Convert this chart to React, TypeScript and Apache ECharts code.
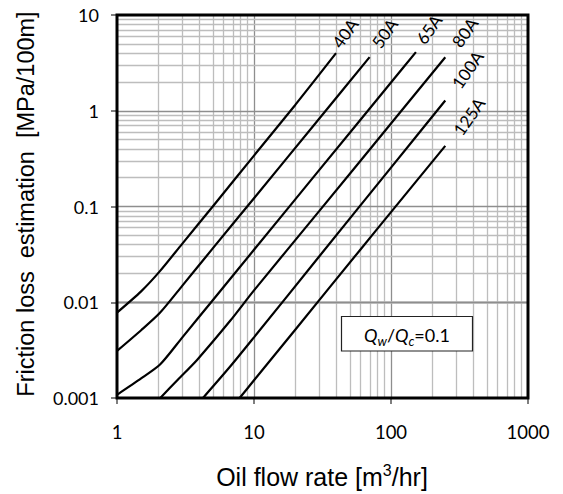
import React, { useEffect, useRef } from "react";
import * as echarts from "echarts";

// Axis extents (log scales) and tick labels
const xMin = 1;
const xMax = 1000;
const yMin = 0.001;
const yMax = 10;
const xTickLabels = ["1", "10", "100", "1000"];
const yTickLabels = ["0.001", "0.01", "0.1", "1", "10"];

// Grid: decades and the 1..9 multipliers inside each decade
const xDecades = [1, 10, 100];
const yDecades = [0.001, 0.01, 0.1, 1];
const gridMultipliers = [1, 2, 3, 4, 5, 6, 7, 8, 9];

// Pipe sizes and their friction-loss curves: [flow m3/hr, loss MPa/100m]
const pipeSizes = ["40A", "50A", "65A", "80A", "100A", "125A"];
const curve40A: [number, number][] = [
  [1, 0.0078], [1.5, 0.013], [2.05, 0.021], [3, 0.041], [5, 0.1],
  [10, 0.34], [20, 1.15], [39.7, 4.0],
];
const curve50A: [number, number][] = [
  [1, 0.0031], [1.5, 0.0051], [2.05, 0.0077], [3, 0.0149], [5, 0.0365],
  [10, 0.122], [30, 0.83], [69.8, 3.63],
];
const curve65A: [number, number][] = [
  [1, 0.00108], [1.5, 0.0016], [2.07, 0.00225], [3, 0.0043], [5, 0.0105],
  [10, 0.0353], [30, 0.241], [100, 1.97], [152, 4.1],
];
const curve80A: [number, number][] = [
  [2.07, 0.001], [2.8, 0.00157], [3.84, 0.0025], [6.7, 0.0064], [10, 0.0133],
  [30, 0.09], [100, 0.735], [249, 3.62],
];
const curve100A: [number, number][] = [
  [4.24, 0.001], [6.7, 0.00213], [10, 0.0043], [30, 0.0302], [100, 0.255],
  [249, 1.28],
];
const curve125A: [number, number][] = [
  [7.85, 0.001], [10, 0.00153], [20, 0.00517], [59.7, 0.0354], [100, 0.0874],
  [249, 0.43],
];
const curves = [curve40A, curve50A, curve65A, curve80A, curve100A, curve125A];

// Placement of each size label relative to its curve's end, in pixels
const labelOffsets: [number, number][] = [
  [0, -7], [6, -11], [4, -10], [10.5, -12], [10.5, -14], [12, -12.5],
];
const labelAngle = (55 * Math.PI) / 180;

const titleFont = "'Liberation Sans', Arial, sans-serif";
const numberFont = "Lato, 'Open Sans', sans-serif";

const fmtTick = (v: number, labels: string[]) => {
  const s = String(parseFloat(v.toPrecision(3)));
  return labels.includes(s) ? s : "";
};

export default function App() {
  const ref = useRef<HTMLDivElement>(null);

  useEffect(() => {
    if (!ref.current) return;
    const chart = echarts.init(ref.current, undefined, { renderer: "svg" });

    const majorColor = "#8e8e8e";
    const minorColor = "#bdbdbd";

    const gridMarks: any[] = [];
    xDecades.forEach((d) =>
      gridMultipliers.forEach((m) => {
        const v = d * m;
        if (v <= xMin || v >= xMax) return;
        gridMarks.push({
          xAxis: v,
          lineStyle: { color: m === 1 ? majorColor : minorColor, width: 1.3, type: "solid" },
        });
      })
    );
    yDecades.forEach((d) =>
      gridMultipliers.forEach((m) => {
        const v = d * m;
        if (v <= yMin || v >= yMax) return;
        gridMarks.push({
          yAxis: v,
          lineStyle: { color: m === 1 ? majorColor : minorColor, width: 1.3, type: "solid" },
        });
      })
    );

    const axisCommon = {
      type: "log" as const,
      logBase: 10,
      axisLine: { show: false },
      splitLine: { show: false },
      minorTick: { show: false },
      axisTick: { show: true, length: 6, lineStyle: { color: "#555", width: 1.5 } },
    };

    chart.setOption({
      animation: false,
      backgroundColor: "#fff",
      grid: { left: 117, right: 35, top: 15, bottom: 96, containLabel: false },
      xAxis: {
        ...axisCommon,
        min: xMin,
        max: xMax,
        axisLabel: {
          margin: 24,
          fontSize: 18.5,
          fontFamily: numberFont,
          color: "#000",
          formatter: (v: number) => fmtTick(v, xTickLabels),
        },
      },
      yAxis: {
        ...axisCommon,
        min: yMin,
        max: yMax,
        axisLabel: {
          margin: 18,
          fontSize: 18,
          fontFamily: numberFont,
          color: "#000",
          formatter: (v: number) => fmtTick(v, yTickLabels),
        },
      },
      series: [
        {
          type: "line",
          name: "grid",
          data: [[xMin, yMin]],
          symbol: "none",
          silent: true,
          z: 1,
          lineStyle: { opacity: 0 },
          markLine: {
            z: 1,
            silent: true,
            symbol: ["none", "none"],
            label: { show: false },
            emphasis: { disabled: true },
            animation: false,
            data: gridMarks,
          },
        },
        ...curves.map((c, i) => ({
          type: "line",
          name: pipeSizes[i],
          data: c,
          symbol: "none",
          smooth: 0.25,
          z: 10,
          clip: true,
          lineStyle: { color: "#000", width: 2.2 },
        })),
      ],
    });

    const corner0 = chart.convertToPixel({ gridIndex: 0 }, [xMin, yMax]) as number[];
    const corner1 = chart.convertToPixel({ gridIndex: 0 }, [xMax, yMin]) as number[];

    const sizeLabels = curves.map((c, i) => {
      const end = c[c.length - 1];
      const p = chart.convertToPixel({ gridIndex: 0 }, end) as number[];
      return {
        type: "text",
        x: p[0] + labelOffsets[i][0],
        y: p[1] + labelOffsets[i][1],
        rotation: labelAngle,
        z: 20,
        style: {
          text: pipeSizes[i],
          fontSize: 17,
          fontFamily: numberFont,
          fill: "#000",
          align: "left",
          verticalAlign: "middle",
        },
      };
    });

    chart.setOption({
      graphic: [
        {
          type: "rect",
          z: 30,
          shape: {
            x: corner0[0],
            y: corner0[1],
            width: corner1[0] - corner0[0],
            height: corner1[1] - corner0[1],
          },
          style: { fill: "none", stroke: "#000", lineWidth: 3 },
        },
        ...sizeLabels,
        {
          type: "rect",
          z: 25,
          shape: { x: 341.5, y: 316.5, width: 131, height: 34.5 },
          style: { fill: "#fff", stroke: "#222", lineWidth: 1.2 },
        },
        {
          type: "text",
          z: 26,
          x: 407,
          y: 335,
          style: {
            text: "{i|Q}{s|w}{n|/}{i|Q}{s|c}{n|=0.1}",
            align: "center",
            verticalAlign: "middle",
            fill: "#000",
            rich: {
              i: { fontSize: 18, fontStyle: "italic", fontFamily: numberFont, lineHeight: 24 },
              s: {
                fontSize: 13,
                fontStyle: "italic",
                fontFamily: numberFont,
                lineHeight: 13,
                verticalAlign: "bottom",
              },
              n: { fontSize: 18, fontFamily: numberFont, lineHeight: 24 },
            },
          },
        },
        {
          type: "text",
          z: 26,
          x: 322,
          y: 477,
          style: {
            text: "{a|Oil flow rate [m}{s|3}{a|/hr]}",
            align: "center",
            verticalAlign: "middle",
            fill: "#000",
            rich: {
              a: { fontSize: 25, fontFamily: titleFont, lineHeight: 30 },
              s: { fontSize: 16, fontFamily: titleFont, lineHeight: 20, verticalAlign: "top" },
            },
          },
        },
        {
          type: "text",
          z: 26,
          x: 26,
          y: 204,
          rotation: Math.PI / 2,
          style: {
            text: "Friction loss\u00a0 estimation\u00a0 [MPa/100m]",
            align: "center",
            verticalAlign: "middle",
            fontSize: 23.5,
            fontFamily: titleFont,
            fill: "#000",
          },
        },
      ],
    });

    return () => chart.dispose();
  }, []);

  return (
    <div
      ref={ref}
      style={{ position: "absolute", left: 0, top: 0, width: 563, height: 494, background: "#fff" }}
    />
  );
}
